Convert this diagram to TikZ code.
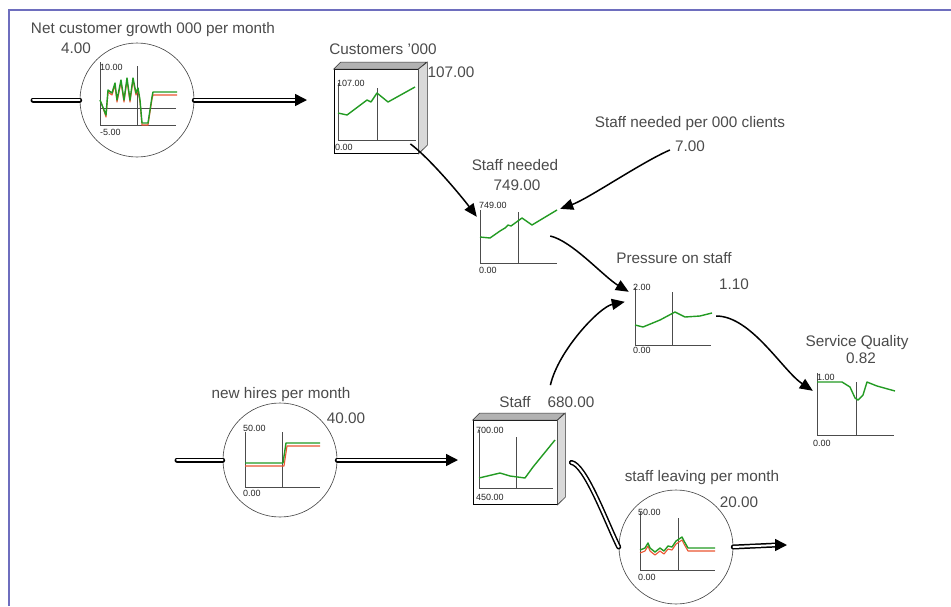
\documentclass[tikz,border=0pt]{standalone}
\usepackage{fontspec}
\setmainfont{Liberation Sans}
\usetikzlibrary{arrows.meta}

\definecolor{txtgray}{RGB}{75,75,75}
\definecolor{trace}{RGB}{35,155,35}
\definecolor{tracered}{RGB}{235,85,50}
\definecolor{frameblue}{RGB}{110,110,190}

\begin{document}
\begin{tikzpicture}[x=1pt, y=-1pt,
  every node/.style={text=txtgray, font=\fontsize{15.3}{17}\selectfont},
  valve/.style={draw=black!75, circle, minimum size=114pt, inner sep=0pt, line width=0.6pt},
  stock/.style={draw, rectangle, minimum width=84pt, minimum height=84pt, line width=0.8pt, fill=white},
  chart/.style={rectangle, minimum width=78pt, minimum height=56pt, inner sep=0pt},
  lbl/.style={inner sep=1pt},
  tiny/.style={inner sep=0pt, anchor=west, font=\fontsize{9}{10}\selectfont, text=black!85},
  axis/.style={draw=black!70, line width=0.6pt},
  curve/.style={draw=trace, line width=1.4pt, line join=round},
  curvered/.style={draw=tracered, line width=1.1pt, line join=round},
  pipe/.style={double=white, double distance=2pt, line width=1.5pt, line cap=round},
  pipetip/.style={-{Triangle[length=12pt,width=12pt]}, line width=1.5pt},
  link/.style={-{Triangle[length=13pt,width=11pt]}, line width=1.5pt}
]
\useasboundingbox (0,0) rectangle (951,606);
\fill[white] (0,0) rectangle (951,606);
\draw[frameblue, line width=2pt] (9,606) -- (9,10) -- (951,10);

% net customer growth (flow)
\node[valve] (growth) at (137,100) {};
\node[lbl] (growthlbl) at (153,30) {Net customer growth 000 per month};
\node[lbl] (growthval) at (76,48) {4.00};
\coordinate (growthsrc) at (33,100);
\coordinate (growthsink) at (307,100);
\draw[pipe] (growthsrc) -- (growth.west);
\draw[pipe] (growth.east) -- ([xshift=-10pt]growthsink);
\draw[pipetip] ([xshift=-12pt]growthsink) -- (growthsink);
\draw[axis] (100,62) -- (100,125) -- (176,125);
\draw[axis] (100,108) -- (176,108);
\draw[axis] (137,66) -- (137,125);
\node[tiny] (growthmax) at (100,67) {10.00};
\node[tiny] (growthmin) at (100,132) {-5.00};
\draw[curvered] (101,102) -- (106,117) -- (108,92) -- (112,95) -- (115,85) -- (117,102) -- (121,82)
  -- (124,102) -- (127,80) -- (130,102) -- (133,80) -- (136,95) -- (138,90) -- (140,102)
  -- (142,125) -- (148,125) -- (152,99) -- (153,95) -- (177,95);
\draw[curve] (100,100) -- (106,115) -- (108,90) -- (112,93) -- (115,83) -- (117,100) -- (121,80)
  -- (124,100) -- (127,78) -- (130,100) -- (133,78) -- (136,93) -- (138,88) -- (140,100)
  -- (142,123) -- (148,123) -- (152,97) -- (153,92) -- (177,92);

% customers (stock)
\node[stock] (cust) at (376,111.5) {};
\filldraw[fill=gray!60, draw=black!80, line width=0.6pt] (cust.north west) -- ++(7,-7) -- ++(86,0) -- (cust.north east) -- cycle;
\filldraw[fill=gray!30, draw=black!80, line width=0.6pt] (cust.north east) -- ++(9,-7) -- ++(0,83) -- (cust.south east) -- cycle;
\node[lbl] (custlbl) at (383,49) {Customers '000};
\node[lbl] (custval) at (451,72) {107.00};
\draw[axis] (338,83) -- (338,140) -- (416,140);
\draw[axis] (377,88) -- (377,140);
\node[tiny] (custmax) at (337,83) {107.00};
\node[tiny] (custmin) at (335,147) {0.00};
\draw[curve] (338,113) -- (347,115) -- (367,100) -- (371,102) -- (377,93) -- (388,102) -- (415,87);

% staff needed
\node[chart] (need) at (519,236) {};
\node[lbl] (needlbl) at (515,165) {Staff needed};
\node[lbl] (needval) at (517,185) {749.00};
\draw[axis] (480,210) -- (480,263) -- (557,263);
\draw[axis] (518,212) -- (518,263);
\node[tiny] (needmax) at (479,205) {749.00};
\node[tiny] (needmin) at (479,270) {0.00};
\draw[curve] (480,237) -- (490,238) -- (500,231) -- (505,228) -- (508,225) -- (511,226) -- (522,218) -- (532,225) -- (557,210);

% staff needed per 000 clients
\node[lbl] (ratiolbl) at (690,124) {Staff needed per 000 clients};
\node[lbl] (ratioval) at (690,146) {7.00};

% pressure on staff
\node[chart] (press) at (673,316) {};
\node[lbl] (presslbl) at (674,258) {Pressure on staff};
\node[lbl] (pressval) at (734,284) {1.10};
\draw[axis] (635,288) -- (635,345) -- (711,345);
\draw[axis] (672,292) -- (672,345);
\node[tiny] (pressmax) at (633,287) {2.00};
\node[tiny] (pressmin) at (633,350) {0.00};
\draw[curve] (635,325) -- (643,327) -- (660,320) -- (675,312) -- (685,317) -- (700,316) -- (712,313);

% service quality
\node[chart] (sq) at (856,404) {};
\node[lbl] (sqlbl) at (857,343) {Service Quality};
\node[lbl] (sqval) at (861,358) {0.82};
\draw[axis] (817,373) -- (817,435) -- (894,435);
\draw[axis] (856,382) -- (856,435);
\node[tiny] (sqmax) at (817,377) {1.00};
\node[tiny] (sqmin) at (813,443) {0.00};
\draw[curve] (817,382) -- (842,382) -- (850,387) -- (855,398) -- (858,400) -- (863,395) -- (867,382) -- (877,386) -- (895,391);

% new hires (flow)
\node[valve] (hire) at (280,460) {};
\node[lbl] (hirelbl) at (281,395) {new hires per month};
\node[lbl] (hireval) at (346,418) {40.00};
\coordinate (hiresrc) at (177,460);
\coordinate (hiresink) at (458,460);
\draw[pipe] (hiresrc) -- (hire.west);
\draw[pipe] (hire.east) -- ([xshift=-10pt]hiresink);
\draw[pipetip] ([xshift=-12pt]hiresink) -- (hiresink);
\draw[axis] (245,432) -- (245,487) -- (320,487);
\draw[axis] (282,432) -- (282,487);
\node[tiny] (hiremax) at (243,428) {50.00};
\node[tiny] (hiremin) at (243,493) {0.00};
\draw[curvered] (245,466) -- (284,466) -- (287,446) -- (320,446);
\draw[curve] (245,463) -- (283,463) -- (286,443) -- (320,443);

% staff (stock)
\node[stock] (stf) at (515,462.5) {};
\filldraw[fill=gray!60, draw=black!80, line width=0.6pt] (stf.north west) -- ++(7,-7) -- ++(85,0) -- (stf.north east) -- cycle;
\filldraw[fill=gray!30, draw=black!80, line width=0.6pt] (stf.north east) -- ++(8,-7) -- ++(0,84) -- (stf.south east) -- cycle;
\node[lbl] (stflbl) at (515,402) {Staff};
\node[lbl] (stfval) at (571,402) {680.00};
\draw[axis] (479,430) -- (479,488) -- (553,488);
\draw[axis] (516,437) -- (516,488);
\node[tiny] (stfmax) at (476,430) {700.00};
\node[tiny] (stfmin) at (476,497) {450.00};
\draw[curve] (479,478) -- (500,473) -- (510,476) -- (525,478) -- (533,467) -- (555,440);

% staff leaving (flow)
\node[valve] (leave) at (676,547) {};
\node[lbl] (leavelbl) at (702,478) {staff leaving per month};
\node[lbl] (leaveval) at (739,502) {20.00};
\coordinate (leavesink) at (787,545);
\draw[pipe] ([xshift=14pt]stf.east) .. controls +(14,2) and +(-12,-24) .. (leave.west);
\draw[pipe] (leave.east) -- ([xshift=-10pt]leavesink);
\draw[pipetip] ([xshift=-12pt]leavesink) -- (leavesink);
\draw[axis] (640,512) -- (640,570) -- (715,570);
\draw[axis] (678,518) -- (678,570);
\node[tiny] (leavemax) at (638,512) {50.00};
\node[tiny] (leavemin) at (638,577) {0.00};
\draw[curvered] (640,553) -- (645,551) -- (648,546) -- (650,551) -- (655,555) -- (660,551) -- (664,554) -- (668,549)
  -- (672,550) -- (676,544) -- (682,540) -- (684,544) -- (688,551) -- (715,551);
\draw[curve] (640,550) -- (645,548) -- (648,543) -- (650,548) -- (655,552) -- (660,548) -- (664,551) -- (668,546)
  -- (672,547) -- (676,541) -- (682,537) -- (684,541) -- (688,548) -- (715,548);

% links
\draw[link] ([shift={(-8,-10)}]cust.south east) .. controls +(20,15) and +(-15,-20) .. ([shift={(-3,9)}]need.north west);
\draw[link] ([shift={(-4,4)}]ratioval.west) .. controls +(-28,12) and +(28,-10) .. ([shift={(2,1)}]need.north east);
\draw[link] ([xshift=-8pt]need.east) .. controls +(22,5) and +(-25,-15) .. ([shift={(-5,4)}]press.north west);
\draw[link] ([shift={(-7,-35)}]stf.north east) .. controls +(8,-35) and +(-25,5) .. ([shift={(-9,14)}]press.north west);
\draw[link] ([xshift=4pt]press.east) .. controls +(35,0) and +(-30,-20) .. ([shift={(-4,15)}]sq.north west);
\end{tikzpicture}
\end{document}
